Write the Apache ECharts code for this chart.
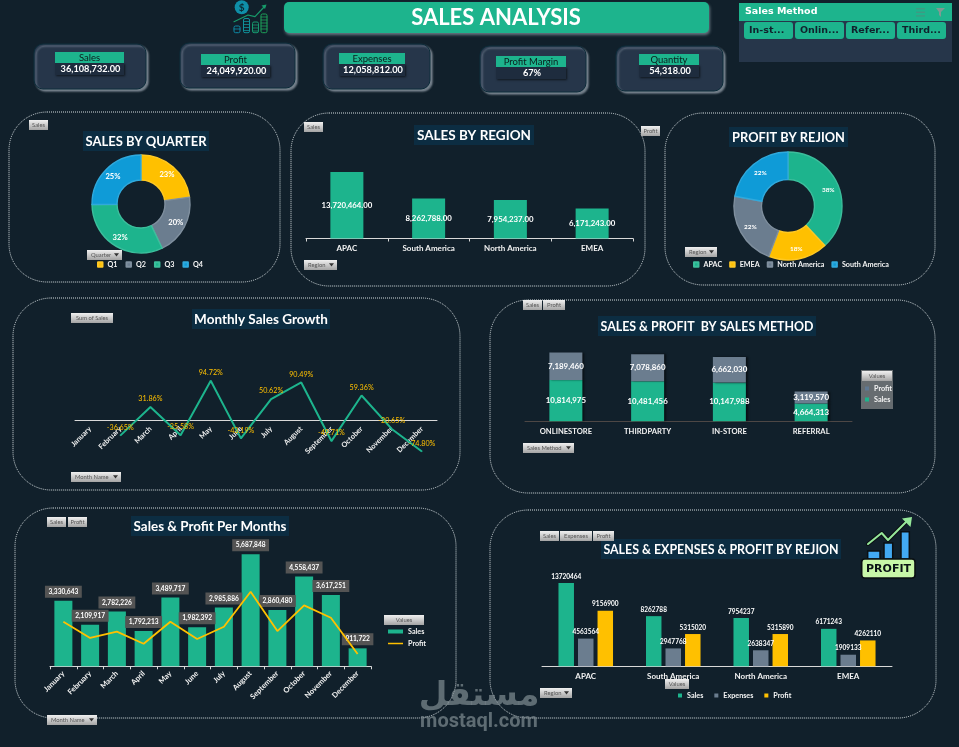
<!DOCTYPE html>
<html><head><meta charset="utf-8">
<style>html,body{margin:0;padding:0;background:#11202b;overflow:hidden}#c{width:959px;height:747px}</style>
<script src="https://cdn.jsdelivr.net/npm/echarts@6/dist/echarts.min.js"></script>
</head><body><div id="c"></div>
<script>
var months = ['January','February','March','April','May','June','July','August','September','October','November','December'];
var monthSales = [3330643,2109917,2782226,1792213,3489717,1982392,2985886,5687848,2860480,4558437,3617251,911722];
var monthProfit = [2264000,1437000,1757000,1147000,2264000,1386000,2010000,3787000,1790000,3096000,2467000,624000];
var monthGrowth = [null,-36.65,31.86,-35.58,94.72,-43.19,50.62,90.49,-49.71,59.36,-20.65,-74.80];
var quarters = ['Q1','Q2','Q3','Q4'];
var quarterSales = [8222786,7264322,11534214,9087410];
var barRegions = ['APAC','South America','North America','EMEA'];
var regionSales = [13720464,8262788,7954237,6171243];
var regionExpenses = [4563564,2947768,2638347,1909133];
var regionProfit = [9156900,5315020,5315890,4262110];
var pieRegions = ['APAC','EMEA','North America','South America'];
var pieRegionProfit = [9156900,4262110,5315890,5315020];
var methods = ['ONLINESTORE','THIRDPARTY','IN-STORE','REFERRAL'];
var methodSales = [10814975,10481456,10147988,4664313];
var methodProfit = [7189460,7078860,6662030,3119570];
var kpiNames = ['Sales','Profit','Expenses','Profit Margin','Quantity'];
var kpiValues = ['36,108,732.00','24,049,920.00','12,058,812.00','67%','54,318.00'];
var slicerItems = ['In-st...','Onlin...','Refer...','Third...'];

var GREEN='#1DB48D',YEL='#FFC000',GRAY='#6B7D8F',BLUE='#0F9BD7',BG='#11202B';
var LATO='Lato, Carlito, sans-serif';
var el=[];
function rect(x,y,w,h,fill,o){o=o||{};el.push({type:'rect',z:o.z==null?1:o.z,silent:true,shape:{x:x,y:y,width:w,height:h,r:o.r||0},style:{fill:fill,stroke:o.stroke||null,lineWidth:o.lw||1,lineDash:o.dash||null,shadowColor:o.sc,shadowBlur:o.sb||0,shadowOffsetX:o.sx||0,shadowOffsetY:o.sy||0}});}
function txt(x,y,t,size,color,o){o=o||{};el.push({type:'text',z:o.z==null?5:o.z,silent:true,x:x,y:y,style:{text:t,fill:color,fontSize:size,fontWeight:o.w||'normal',fontFamily:o.f||LATO,align:o.a||'center',textAlign:o.a||'center',verticalAlign:'middle',textVerticalAlign:'middle',opacity:o.op==null?1:o.op}});}
function poly(pts,color,lw,z,fill){el.push({type:fill?'polygon':'polyline',z:z||6,silent:true,shape:{points:pts},style:fill?{fill:color}:{stroke:color,fill:null,lineWidth:lw,lineJoin:'round',lineCap:'round'}});}
var btnGrad={type:'linear',x:0,y:0,x2:0,y2:1,colorStops:[{offset:0,color:'#f0f0f0'},{offset:1,color:'#a4a4a4'}]};
function btn(x,y,w,t,arrow){rect(x,y,w,10,btnGrad,{z:8});txt(arrow?x+4:x+w/2,y+5,t,5.8,'#555',{z:9,a:arrow?'left':'center'});if(arrow){poly([[x+w-8,y+3.2],[x+w-3,y+3.2],[x+w-5.5,y+6.4]],'#333',0,9,true);}}
function panel(x,y,w,h,r){rect(x,y,w,h,'transparent',{r:r||38,stroke:'#d5dde0',lw:1,dash:[1,1],z:1});}
function title(x,y,w,t,size){rect(x,y,w,20,'#0C2D42',{z:3});txt(x+w/2,y+10.5,t,size,'#ffffff',{w:'bold',z:4});}

// panels
panel(9,112,271,170);panel(291,113,354,173);panel(665,113,270,172);
panel(13,298,447,192);panel(490,300,445,193);panel(15,508,441,210);panel(490,510,446,208);

// header
rect(284,2,425,31,GREEN,{r:5,sc:'rgba(190,205,215,.5)',sb:3,sx:1,sy:2});
txt(496,17.5,'SALES ANALYSIS',22,'#fff',{w:'bold'});

// KPI cards
var cards=[[34,44,112,45,55,52,69],[180,43,115,45,201,54,69],[323,44,107,45,339,53,66],[480,46,106,46,496,56,70],[616,46,107,45,639,54,60]];
cards.forEach(function(c,i){
  rect(c[0],c[1],c[2],c[3],'#26364A',{r:9,stroke:'#0c2c3a',lw:1,sc:'rgba(200,210,220,.55)',sb:2,sx:2,sy:2,z:2});
  rect(c[4],c[5]+11,c[6],12,'#1E2C3E',{z:3,sc:'rgba(0,0,0,.6)',sb:2,sx:1,sy:1});
  rect(c[4],c[5],c[6],11,GREEN,{z:3});
  txt(c[4]+c[6]/2,c[5]+5.7,kpiNames[i],9.5,'#0b1d1d',{z:4});
  txt(c[4]+c[6]/2+1,c[5]+17.3,kpiValues[i],9.2,'#fff',{z:4,w:'bold'});
});

// slicer
rect(739,3,213,59,'#26364A',{z:1});
rect(739,3,213,18,GREEN,{z:2});
txt(745,12,'Sales Method',9.5,'#fff',{a:'left',w:'bold',f:'DejaVu Sans',z:3});
[744,795,846,897].forEach(function(x,i){rect(x,22,49,17,GREEN,{r:3,z:2});txt(x+5,31,slicerItems[i],9.5,'#10222c',{a:'left',w:'bold',f:'DejaVu Sans',z:3});});
[917,920,923].forEach(function(x){rect(916,8+(x-917)*1.2,9,1.4,'#3f9a83',{z:3});});
poly([[936,8],[945,8],[941,12],[941,17],[939,15],[939,12]],'#7f9a93',0,3,true);

// money icon
el.push({type:'circle',z:6,silent:true,shape:{cx:241.7,cy:7.3,r:7},style:{fill:'#0f8fa8'}});
txt(241.7,7.6,'$',10,'#0b2a33',{w:'bold',z:7});
poly([[234,21.7],[248,15],[255,16.7],[265,6]],'#179a6a',1.2,6);
poly([[266.5,4.5],[261.5,5.5],[265,9]],'#179a6a',0,6,true);
[[234,26,'#0e8ba8'],[243.5,18.5,'#10919a'],[252.5,22,'#16996f'],[261,14,'#1ea35a']].forEach(function(s){
  rect(s[0],s[1],6,32.7-s[1],'transparent',{stroke:s[2],lw:1,r:1.5,z:6});
  for(var yy=s[1]+3;yy<32;yy+=3){poly([[s[0],yy],[s[0]+6,yy]],s[2],.8,6);}
});

// field buttons
btn(29,120,19,'Sales');btn(87,250,35,'Quarter',1);
btn(304,122,19,'Sales');btn(304,260,33,'Region',1);
btn(641,126,19,'Profit');btn(685,247,32,'Region',1);
btn(71,313,42,'Sum of Sales');btn(71,472,50,'Month Name',1);
btn(523,300,19,'Sales');btn(543,300,22,'Profit');btn(523,443,51,'Sales Method',1);
btn(47,517,19,'Sales');btn(68,517,19,'Profit');btn(47,715,50,'Month Name',1);
btn(540,531,19,'Sales');btn(560,531,32,'Expenses');btn(593,531,21,'Profit');btn(540,688,32,'Region',1);
btn(665,679,24,'Values');
// legend backgrounds
rect(861,370,32,39,'#666C70',{z:3});btn(862,371,30,'Values');btn(384,615,40,'Values');

// chart titles
title(83,131,126,'SALES BY QUARTER',13);
title(414,125,120,'SALES BY REGION',13.5);
title(729,127,119,'PROFIT BY REJION',12.8);
title(192,309,138,'Monthly Sales Growth',13.5);
title(598,316,218,'SALES & PROFIT  BY SALES METHOD',12.4);
title(131,516,158,'Sales & Profit Per Months',13.4);
title(601,539,240,'SALES & EXPENSES & PROFIT BY REJION',12.4);

// profit icon
[[867.7,551,12.3,8],[884,543,8.7,16],[901,531.7,8.3,27.3]].forEach(function(b){rect(b[0],b[1],b[2],b[3],'#42A9F2',{stroke:'#0a0f12',lw:1.5,z:6});});
rect(861.7,559,53.3,19,'#C8F7A8',{r:3,stroke:'#0a0f12',lw:1.6,z:6});
txt(888.5,569,'PROFIT',11,'#0a1215',{w:'bold',z:7,f:'DejaVu Sans'});
poly([[868,544],[881.7,533],[888,540],[908,520]],'#0a0f12',4,6);
poly([[868,544],[881.7,533],[888,540],[908,520]],'#96E89A',2,7);
poly([[912,517],[902,518.5],[910.5,527]],'#96E89A',0,7,true);

// watermark
txt(479,696,'مستقل',33,'#7d898f',{w:'bold',f:'DejaVu Sans',z:10,op:.72});
txt(479,722,'mostaql.com',20,'#7d898f',{f:'Roboto',w:'bold',z:10,op:.72});

// chart helpers
var lbl={color:'#f2f2f2',fontFamily:LATO,fontWeight:'bold'};
function catAxis(grid,data,o){return Object.assign({type:'category',gridIndex:grid,data:data,axisTick:{show:false},axisLine:{lineStyle:{color:'#d9d9d9',width:1}},axisLabel:Object.assign({},lbl,{fontSize:8,interval:0,margin:6})},o||{});}
function valAxis(grid,min,max){return {type:'value',gridIndex:grid,min:min,max:max,show:false,splitLine:{show:false}};}
function pieSeries(names,vals,colors,cx,cy,ri,ro,size){return {type:'pie',center:[cx,cy],radius:[ri,ro],startAngle:90,silent:true,
  data:names.map(function(n,i){return {name:n,value:vals[i],itemStyle:{color:colors[i],borderColor:echarts.color.lift(colors[i],.14),borderWidth:1.4}};}),
  label:{position:'inside',color:'#fff',fontFamily:LATO,fontWeight:'bold',fontSize:size,formatter:function(p){return Math.round(p.percent)+'%';}},labelLine:{show:false}};}
function fmt(p){return p.value.toLocaleString('en-US');}
var shadow={shadowColor:'rgba(0,0,0,.55)',shadowOffsetX:2,shadowBlur:2};
var LT={color:'#f4f4f4',fontFamily:LATO,fontWeight:'bold',fontSize:7.2};

var option={backgroundColor:BG,animation:false,tooltip:{show:false},
 graphic:{elements:el},
 grid:[
  {left:306,top:151.3,width:327,height:87.2},
  {left:75,top:378.5,width:362,height:83.6},
  {left:525,top:344.9,width:327,height:76.4},
  {left:50,top:528.4,width:321,height:137.9},
  {left:542,top:544.9,width:350,height:121.4}],
 xAxis:[
  catAxis(0,barRegions,{axisTick:{show:true,length:3,lineStyle:{color:'#d9d9d9'}}}),
  catAxis(1,months,{axisLabel:Object.assign({},lbl,{fontSize:7.3,interval:0,rotate:45,margin:-34.5})}),
  catAxis(2,methods,{axisLine:{lineStyle:{color:'#4d4745'}},axisLabel:Object.assign({},lbl,{fontSize:7.6,interval:0,margin:6})}),
  catAxis(3,months,{axisTick:{show:true,length:3,lineStyle:{color:'#d9d9d9'}},axisLabel:Object.assign({},lbl,{fontSize:7.5,interval:0,rotate:45,margin:6})}),
  catAxis(4,barRegions,{axisLabel:Object.assign({},lbl,{fontSize:8,interval:0,margin:6})})],
 yAxis:[valAxis(0,0,18000000),valAxis(1,-100,100),valAxis(2,0,20000000),valAxis(3,0,7000000),valAxis(4,0,20000000)],
 legend:[
  {show:true,left:97,top:261,padding:0,itemWidth:4.5,itemHeight:4.5,itemGap:8,icon:'rect',selectedMode:false,textStyle:LT,data:quarters},
  {show:true,left:693,top:261,padding:0,itemWidth:4.5,itemHeight:4.5,itemGap:7,icon:'rect',selectedMode:false,textStyle:LT,
   data:pieRegions},
  {show:true,left:865,top:385,padding:0,orient:'vertical',itemWidth:4,itemHeight:4,itemGap:4,selectedMode:false,textStyle:LT,
   data:[{name:'Profit',icon:'rect',itemStyle:{color:'#5F7892'}},{name:'Sales',icon:'rect',itemStyle:{color:GREEN}}]},
  {show:true,left:388,top:628,padding:0,orient:'vertical',itemWidth:15,itemHeight:4,itemGap:5,selectedMode:false,textStyle:LT,
   data:[{name:'Sales',icon:'rect',itemStyle:{color:GREEN}},{name:'Profit',icon:'path://M0 0H30V3H0Z',itemStyle:{color:YEL}}]},
  {show:true,left:678,top:692,padding:0,itemWidth:4,itemHeight:4,itemGap:11,selectedMode:false,textStyle:LT,
   data:[{name:'Sales',icon:'rect',itemStyle:{color:GREEN}},{name:'Expenses',icon:'rect',itemStyle:{color:GRAY}},{name:'Profit',icon:'rect',itemStyle:{color:YEL}}]}
 ],
 series:[
  pieSeries(quarters,quarterSales,[YEL,GRAY,GREEN,BLUE],141,204,24,49,7.6),
  pieSeries(pieRegions,pieRegionProfit,[GREEN,YEL,GRAY,BLUE],788,206,26.5,54,6.4),
  {type:'bar',name:'Sales by region',xAxisIndex:0,yAxisIndex:0,barWidth:33,data:regionSales,itemStyle:{color:GREEN},
   label:{show:true,position:'inside',color:'#fff',fontFamily:LATO,fontWeight:'bold',fontSize:7.8,formatter:function(p){return p.value.toLocaleString('en-US',{minimumFractionDigits:2});}}},
  {type:'line',name:'Growth',xAxisIndex:1,yAxisIndex:1,data:monthGrowth,symbol:'circle',symbolSize:1,showSymbol:true,showAllSymbol:true,lineStyle:{color:GREEN,width:2},itemStyle:{color:GREEN},connectNulls:false,
   label:{show:true,position:'top',distance:4,color:YEL,fontFamily:LATO,fontSize:7.2,formatter:function(p){return p.value==null?'':p.value.toFixed(2)+'%';}}},
  {type:'bar',name:'Sales',stack:'m',xAxisIndex:2,yAxisIndex:2,barWidth:33,data:methodSales,itemStyle:Object.assign({color:GREEN},shadow),
   label:{show:true,position:'inside',color:'#fff',fontFamily:LATO,fontWeight:'bold',fontSize:7.9,formatter:fmt}},
  {type:'bar',name:'Profit',stack:'m',xAxisIndex:2,yAxisIndex:2,barWidth:33,data:methodProfit,itemStyle:Object.assign({color:GRAY},shadow),
   label:{show:true,position:'inside',color:'#fff',fontFamily:LATO,fontWeight:'bold',fontSize:7.9,formatter:fmt}},
  {type:'bar',name:'Sales',xAxisIndex:3,yAxisIndex:3,barWidth:18,data:monthSales,itemStyle:{color:GREEN},
   label:{show:true,position:'top',distance:3,color:'#fff',fontFamily:LATO,fontWeight:'bold',fontSize:6.6,backgroundColor:'#545454',padding:[2.5,3.5],formatter:fmt}},
  {type:'line',name:'Profit',xAxisIndex:3,yAxisIndex:3,data:monthProfit,symbol:'none',lineStyle:{color:YEL,width:1.8},itemStyle:{color:YEL},z:4},
  {type:'bar',name:'Sales',xAxisIndex:4,yAxisIndex:4,barWidth:15.5,barGap:'26%',data:regionSales,itemStyle:{color:GREEN},
   label:{show:true,position:'top',distance:3,color:'#fff',fontFamily:LATO,fontWeight:'bold',fontSize:6.5}},
  {type:'bar',name:'Expenses',xAxisIndex:4,yAxisIndex:4,barWidth:15.5,barGap:'26%',data:regionExpenses,itemStyle:{color:GRAY},
   label:{show:true,position:'top',distance:3,color:'#fff',fontFamily:LATO,fontWeight:'bold',fontSize:6.5}},
  {type:'bar',name:'Profit',xAxisIndex:4,yAxisIndex:4,barWidth:15.5,barGap:'26%',data:regionProfit,itemStyle:{color:YEL},
   label:{show:true,position:'top',distance:3,color:'#fff',fontFamily:LATO,fontWeight:'bold',fontSize:6.5}}
 ]};
echarts.init(document.getElementById('c'),null,{renderer:'canvas'}).setOption(option);
</script></body></html>
